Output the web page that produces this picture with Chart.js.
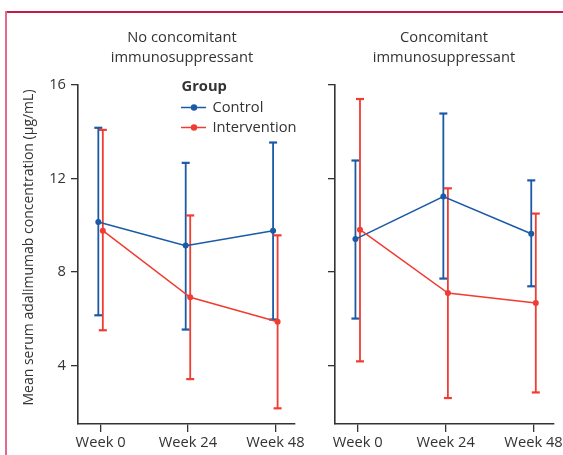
<!DOCTYPE html>
<html>
<head>
<meta charset="utf-8">
<script src="https://cdn.jsdelivr.net/npm/chart.js@4.4.0/dist/chart.umd.min.js"></script>
<style>
html,body{margin:0;padding:0;background:#fff;}
#wrap{position:relative;width:563px;height:455px;overflow:hidden;background:#fff;}
#frameTop{position:absolute;left:5px;top:11px;width:558px;height:2px;background:#c8174a;}
#frameLeft{position:absolute;left:5px;top:11px;width:2px;height:444px;background:#e46a8c;}
.c{position:absolute;top:0;height:455px;}
</style>
</head>
<body>
<div id="wrap">
  <div class="c" style="left:0;width:330px"><canvas id="c1" width="330" height="455"></canvas></div>
  <div class="c" style="left:300px;width:263px"><canvas id="c2" width="263" height="455"></canvas></div>
  <div id="frameTop"></div>
  <div id="frameLeft"></div>
</div>
<script>
// ---- data ----
const weeks = [0, 24, 48];
const weekLabels = ['Week 0', 'Week 24', 'Week 48'];
const yTicks = [4, 8, 12, 16];
const seriesNames = ['Control', 'Intervention'];
const legendTitle = 'Group';
const yTitle = 'Mean serum adalimumab concentration (\u00b5g/mL)';
const leftTitle = ['No concomitant', 'immunosuppressant'];
const rightTitle = ['Concomitant', 'immunosuppressant'];

const noImmControlMean = [10.14, 9.13, 9.77];
const noImmControlLow = [6.15, 5.54, 5.97];
const noImmControlHigh = [14.17, 12.67, 13.54];
const noImmInterventionMean = [9.77, 6.92, 5.87];
const noImmInterventionLow = [5.51, 3.42, 2.17];
const noImmInterventionHigh = [14.08, 10.42, 9.57];

const immControlMean = [9.41, 11.23, 9.64];
const immControlLow = [6.01, 7.72, 7.39];
const immControlHigh = [12.77, 14.78, 11.92];
const immInterventionMean = [9.81, 7.10, 6.68];
const immInterventionLow = [4.18, 2.61, 2.85];
const immInterventionHigh = [15.40, 11.58, 10.50];

// ---- styles ----
const BLUE = '#1a5aa6';
const RED = '#f03c32';
const TEXT = '#333333';
const AXIS = '#333333';
const FONT = "'Open Sans', 'Noto Sans', sans-serif";
const FS = 14.7;
const DODGE = 0.62;

Chart.defaults.font.family = FONT;
Chart.defaults.font.size = FS;
Chart.defaults.color = TEXT;

function mkData(mean, low, high, dodge) {
  return weeks.map((w, i) => ({ x: w + dodge, y: mean[i], lo: low[i], hi: high[i] }));
}

const errorBars = {
  id: 'errorBars',
  beforeDatasetsDraw(chart) {
    const ctx = chart.ctx;
    const ys = chart.scales.y, xs = chart.scales.x;
    const metas = chart.getSortedVisibleDatasetMetas().slice().reverse();
    metas.forEach(meta => {
      const ds = chart.data.datasets[meta.index];
      ctx.save();
      ctx.strokeStyle = ds.borderColor;
      ds.data.forEach(d => {
        const px = xs.getPixelForValue(d.x);
        const yl = ys.getPixelForValue(d.lo);
        const yh = ys.getPixelForValue(d.hi);
        ctx.lineWidth = 1.8;
        ctx.beginPath(); ctx.moveTo(px, yl); ctx.lineTo(px, yh); ctx.stroke();
        ctx.lineWidth = 2.2;
        ctx.beginPath(); ctx.moveTo(px - 4, yl); ctx.lineTo(px + 4, yl); ctx.stroke();
        ctx.beginPath(); ctx.moveTo(px - 4, yh); ctx.lineTo(px + 4, yh); ctx.stroke();
      });
      ctx.restore();
    });
  }
};

const decor = {
  id: 'decor',
  afterDraw(chart, args, opts) {
    const ctx = chart.ctx;
    ctx.save();
    ctx.fillStyle = TEXT;
    ctx.font = FS + 'px ' + FONT;
    ctx.textAlign = 'center';
    ctx.textBaseline = 'middle';
    opts.title.forEach((t, i) => ctx.fillText(t, opts.titleX, 38 + i * 20));
    if (opts.yTitle) {
      ctx.save();
      ctx.font = '14px ' + FONT;
      ctx.translate(29, 247.5);
      ctx.rotate(-Math.PI / 2);
      ctx.fillText(yTitle, 0, 0);
      ctx.restore();
    }
    if (opts.legend) {
      ctx.textAlign = 'left';
      ctx.font = 'bold ' + FS + 'px ' + FONT;
      ctx.fillText(legendTitle, 181.5, 86.5);
      ctx.font = FS + 'px ' + FONT;
      [BLUE, RED].forEach((c, i) => {
        const y = 107.5 + i * 20;
        ctx.strokeStyle = c; ctx.fillStyle = c; ctx.lineWidth = 1.5;
        ctx.beginPath(); ctx.moveTo(181, y); ctx.lineTo(206, y); ctx.stroke();
        ctx.beginPath(); ctx.arc(194, y, 3.2, 0, Math.PI * 2); ctx.fill();
        ctx.fillStyle = TEXT;
        ctx.fillText(seriesNames[i], 212.5, y);
      });
    }
    ctx.restore();
  }
};

function makePanel(id, ctrl, intv, cfg) {
  return new Chart(document.getElementById(id), {
    type: 'line',
    data: {
      datasets: [
        { label: seriesNames[0], data: mkData(ctrl[0], ctrl[1], ctrl[2], -DODGE),
          borderColor: BLUE, backgroundColor: BLUE, borderWidth: 1.5,
          pointRadius: 3, pointBorderWidth: 0, tension: 0, order: 1 },
        { label: seriesNames[1], data: mkData(intv[0], intv[1], intv[2], DODGE),
          borderColor: RED, backgroundColor: RED, borderWidth: 1.5,
          pointRadius: 3, pointBorderWidth: 0, tension: 0, order: 0 }
      ]
    },
    options: {
      responsive: false,
      animation: false,
      layout: { padding: { top: 85, left: 0, bottom: 0, right: cfg.padRight } },
      plugins: {
        legend: { display: false },
        tooltip: { enabled: false },
        decor: cfg.decor
      },
      scales: {
        x: {
          type: 'linear', min: -6.2, max: 53.4,
          afterBuildTicks: s => { s.ticks = weeks.map(v => ({ value: v })); },
          afterFit: s => { s.height = 31; s.paddingLeft = 0; s.paddingRight = 0; },
          ticks: { padding: 2, color: TEXT, callback: v => weekLabels[weeks.indexOf(v)] },
          grid: { display: true, drawOnChartArea: false, drawTicks: true, tickLength: 8, color: AXIS, lineWidth: 1.3 },
          border: { display: true, color: AXIS, width: 1.6 }
        },
        y: {
          type: 'linear', min: 1.5, max: 16,
          afterBuildTicks: s => { s.ticks = yTicks.map(v => ({ value: v })); },
          afterFit: s => { s.width = cfg.yWidth; s.paddingTop = 0; s.paddingBottom = 0; },
          ticks: { display: cfg.yLabels, padding: 5, color: TEXT },
          grid: { display: true, drawOnChartArea: false, drawTicks: true, tickLength: 7, color: AXIS, lineWidth: 1.3 },
          border: { display: true, color: AXIS, width: 1.6 }
        }
      }
    },
    plugins: [errorBars, decor]
  });
}

makePanel('c1',
  [noImmControlMean, noImmControlLow, noImmControlHigh],
  [noImmInterventionMean, noImmInterventionLow, noImmInterventionHigh],
  { padRight: 35, yWidth: 78, yLabels: true,
    decor: { title: leftTitle, titleX: 182, yTitle: true, legend: true } });

makePanel('c2',
  [immControlMean, immControlLow, immControlHigh],
  [immInterventionMean, immInterventionLow, immInterventionHigh],
  { padRight: 9.7, yWidth: 35, yLabels: false,
    decor: { title: rightTitle, titleX: 144, yTitle: false, legend: false } });
</script>
</body>
</html>
